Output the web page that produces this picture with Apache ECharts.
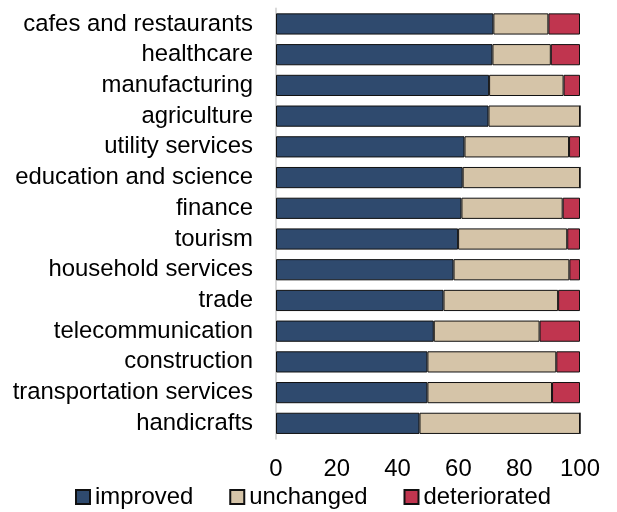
<!DOCTYPE html>
<html>
<head>
<meta charset="utf-8">
<script src="https://cdn.jsdelivr.net/npm/echarts@6/dist/echarts.min.js"></script>
<style>
html,body{margin:0;padding:0;background:#fff;}
#chart{width:617px;height:512px;}
</style>
</head>
<body>
<div id="chart"></div>
<script>
var categories = ["cafes and restaurants","healthcare","manufacturing","agriculture","utility services","education and science","finance","tourism","household services","trade","telecommunication","construction","transportation services","handicrafts"];
var improved     = [71.5, 71.2, 70.1, 69.9, 62.0, 61.4, 61.0, 59.9, 58.4, 55.1, 51.9, 49.8, 49.8, 47.2];
var unchanged    = [18.1, 19.2, 24.5, 30.1, 34.4, 38.6, 33.3, 35.9, 38.1, 37.7, 34.8, 42.4, 41.0, 52.8];
var deteriorated = [10.4,  9.6,  5.4,  0.0,  3.6,  0.0,  5.7,  4.2,  3.5,  7.2, 13.3,  7.8,  9.2,  0.0];
var xTicks = [0, 20, 40, 60, 80, 100];

var FONT = '"Liberation Sans", Arial, sans-serif';
var FS = 23.9;
var chart = echarts.init(document.getElementById('chart'), null, {renderer:'canvas'});
function mk(name, data, color){
  return {
    name: name, type: 'bar', stack: 'total', data: data,
    barWidth: '69%',
    itemStyle: {color: color, borderColor: '#111', borderWidth: 1},
    emphasis: {disabled: true}
  };
}
chart.setOption({
  animation: false,
  textStyle: {fontFamily: FONT},
  grid: {left: 276, right: 37, top: 8.6, bottom: 73.3, containLabel: false},
  xAxis: {
    type: 'value', min: xTicks[0], max: xTicks[xTicks.length-1], interval: 20,
    axisLine: {show: false}, axisTick: {show: false}, splitLine: {show: false},
    axisLabel: {fontSize: FS, color: '#000', margin: 19, fontFamily: FONT}
  },
  yAxis: {
    type: 'category', data: categories, inverse: true,
    axisLine: {show: true, lineStyle: {color: '#d9d9d9', width: 2}},
    axisTick: {show: false},
    axisLabel: {fontSize: FS, color: '#000', margin: 23, fontFamily: FONT, interval: 0}
  },
  legend: {
    left: 75, top: 485, padding: 0, itemWidth: 14, itemHeight: 14, itemGap: 36,
    icon: 'rect',
    textStyle: {fontSize: FS, color: '#000', fontFamily: FONT},
    data: ['improved','unchanged','deteriorated']
  },
  series: [
    mk('improved', improved, '#2F4A6E'),
    mk('unchanged', unchanged, '#D5C4A8'),
    mk('deteriorated', deteriorated, '#C0354F')
  ]
});
</script>
</body>
</html>
